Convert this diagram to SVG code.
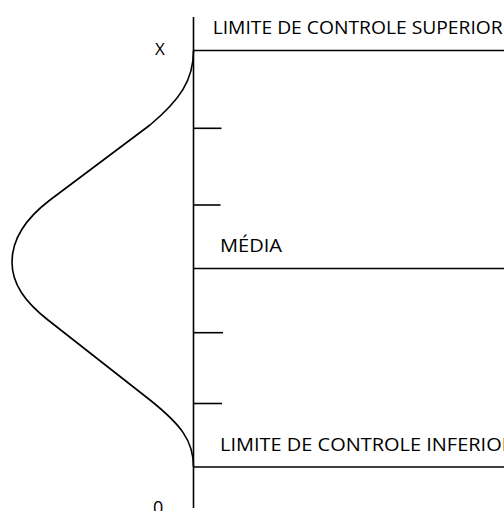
<svg xmlns="http://www.w3.org/2000/svg" width="504" height="511" viewBox="0 0 504 511">
<style>
.ln{stroke:#000;stroke-width:1.6;fill:none}
.t{font-family:"Open Sans","Liberation Sans",sans-serif;fill:#000}
</style>
<rect width="504" height="511" fill="#fff"/>
<g id="connectors">
<line class="ln" x1="193.5" y1="17" x2="193.5" y2="508"/>
<line class="ln" x1="193.5" y1="50.5" x2="504" y2="50.5"/>
<line class="ln" x1="193.5" y1="268.5" x2="504" y2="268.5"/>
<line class="ln" x1="193.5" y1="467" x2="504" y2="467"/>
<line class="ln" x1="193.5" y1="128.3" x2="221.5" y2="128.3"/>
<line class="ln" x1="193.5" y1="205" x2="220.5" y2="205"/>
<line class="ln" x1="193.5" y1="332.7" x2="223" y2="332.7"/>
<line class="ln" x1="193.5" y1="403.5" x2="222" y2="403.5"/>
</g>
<g id="curve">
<path class="ln" d="M193.5,50.5 C193.5,80 180,100 150,125 L50,200 C25,219 12,240 12,262 C12,284 25,302 48,320 L150,400 C180,424 193.5,440 193.5,467"/>
</g>
<g id="label-x"><text class="t" x="155" y="55" font-size="17">X</text></g>
<g id="label-0"><text class="t" x="153" y="514" font-size="18">0</text></g>
<g id="label-lcs"><text class="t" x="212.7" y="34" font-size="18" textLength="290" lengthAdjust="spacingAndGlyphs">LIMITE DE CONTROLE SUPERIOR</text></g>
<g id="label-media"><text class="t" x="220" y="251.7" font-size="18.5" textLength="62" lengthAdjust="spacingAndGlyphs">MÉDIA</text></g>
<g id="label-lci"><text class="t" x="220" y="451" font-size="19" textLength="294" lengthAdjust="spacingAndGlyphs">LIMITE DE CONTROLE INFERIOR</text></g>
</svg>
